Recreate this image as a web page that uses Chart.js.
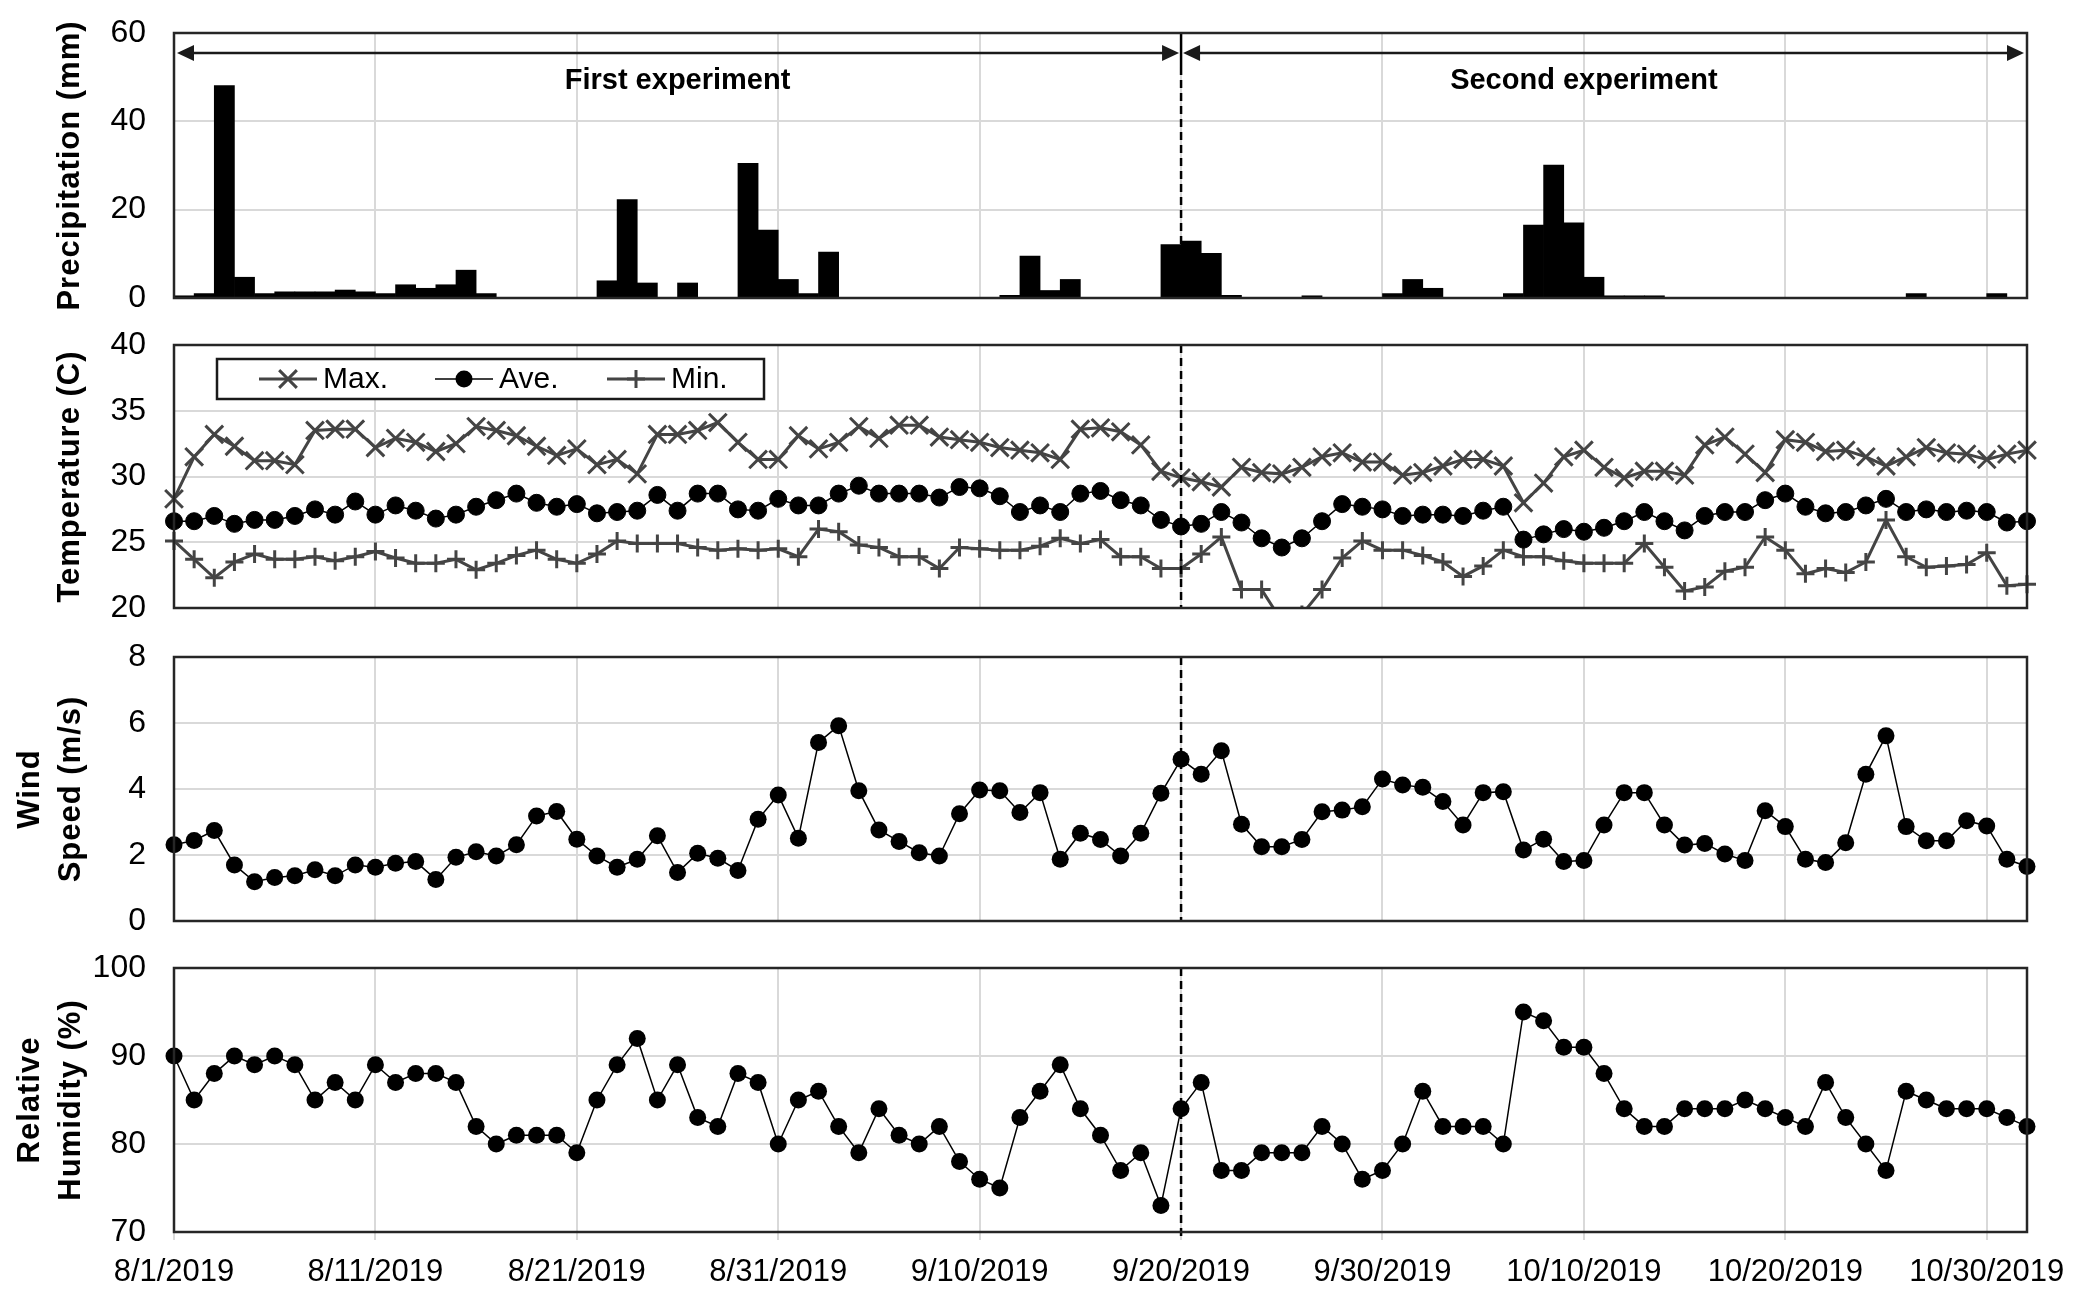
<!DOCTYPE html>
<html><head><meta charset="utf-8">
<script src="https://cdn.jsdelivr.net/npm/chart.js@4"></script>
<style>
html,body{margin:0;padding:0;background:#fff;}
#wrap{position:relative;width:2080px;height:1306px;background:#fff;}
canvas{position:absolute;left:0;}
</style></head><body>
<div id="wrap">
<canvas id="c1" width="2080" height="320" style="top:0px"></canvas>
<canvas id="c2" width="2080" height="310" style="top:320px"></canvas>
<canvas id="c3" width="2080" height="310" style="top:630px"></canvas>
<canvas id="c4" width="2080" height="366" style="top:940px"></canvas>
</div>
<script>
// ---------------- DATA ----------------
const tickDays = [0, 10, 20, 30, 40, 50, 60, 70, 80, 90];
const tickLabels = ['8/1/2019','8/11/2019','8/21/2019','8/31/2019','9/10/2019','9/20/2019','9/30/2019','10/10/2019','10/20/2019','10/30/2019'];
const splitDay = 50;
const experimentLabels = ['First experiment', 'Second experiment'];
const seriesNames = ['Max.', 'Ave.', 'Min.'];

// daily precipitation (mm), one bar per day from 8/1
const precipitation = [0.5,1.0,48.1,4.7,1.0,1.4,1.4,1.4,1.8,1.4,1.0,3.0,2.2,3.0,6.3,1.0,0,0,0,0,0,3.9,22.3,3.4,0,3.4,0,0,30.5,15.4,4.2,1.0,10.4,0,0,0,0,0,0,0,0,0.6,9.5,1.7,4.2,0,0,0,0,12.1,12.9,10.1,0.6,0,0,0,0.5,0,0,0,1.0,4.2,2.2,0,0,0,1.0,16.5,30.1,17.0,4.7,0.5,0.5,0.5,0,0,0,0,0,0,0,0,0,0,0,0,1.0,0,0,0,1.0,0];

const tempMax = [28.3,31.5,33.2,32.3,31.2,31.2,30.9,33.5,33.6,33.6,32.2,32.9,32.6,31.9,32.5,33.8,33.5,33.1,32.3,31.6,32.1,30.9,31.3,30.2,
  33.2,33.2,33.5,34.1,32.6,31.3,31.3,33.1,32.1,32.6,33.8,32.9,33.9,33.9,33.0,32.8,32.6,32.2,32.0,31.8,31.3,33.6,33.7,
  33.4,32.4,30.4,29.9,29.6,29.2,30.7,30.3,30.2,30.7,31.5,31.8,31.1,31.1,30.1,30.3,30.8,31.3,31.3,30.8,28.0,29.5,
  31.5,32.0,30.7,29.9,30.4,30.4,30.1,32.4,33.0,31.7,30.3,32.8,32.6,31.9,32.0,31.5,30.8,31.5,32.2,31.8,31.7,31.3,31.7,32.0];
const tempAve = [26.6,26.6,27.0,26.4,26.7,26.7,27.0,27.5,27.1,28.1,27.1,27.8,27.4,26.8,27.1,27.7,28.2,28.7,28.0,27.7,27.9,27.2,27.3,27.4,
  28.6,27.4,28.7,28.7,27.5,27.4,28.3,27.8,27.8,28.7,29.3,28.7,28.7,28.7,28.4,29.2,29.1,28.5,27.3,27.8,27.3,28.7,28.9,
  28.2,27.8,26.7,26.2,26.4,27.3,26.5,25.3,24.6,25.3,26.6,27.9,27.7,27.5,27.0,27.1,27.1,27.0,27.4,27.7,25.2,25.6,
  26.0,25.8,26.1,26.6,27.3,26.6,25.9,27.0,27.3,27.3,28.2,28.7,27.7,27.2,27.3,27.8,28.3,27.3,27.5,27.3,27.4,27.3,26.5,26.6];
const tempMin = [25.1,23.7,22.3,23.5,24.1,23.7,23.7,23.9,23.6,23.9,24.3,23.8,23.4,23.4,23.7,22.9,23.4,24.0,24.4,23.7,23.4,24.1,25.1,24.9,
  24.9,24.9,24.6,24.4,24.5,24.4,24.5,23.9,26.0,25.8,24.8,24.6,23.9,23.9,23.0,24.6,24.5,24.4,24.4,24.7,25.3,24.9,25.2,
  23.9,23.9,23.0,23.0,24.1,25.4,21.4,21.4,19.0,19.5,21.4,23.8,25.1,24.4,24.4,24.0,23.5,22.4,23.2,24.4,23.9,23.9,
  23.6,23.4,23.4,23.4,24.9,23.1,21.3,21.6,22.8,23.1,25.4,24.4,22.6,23.0,22.7,23.5,26.7,23.9,23.1,23.2,23.3,24.2,21.7,21.8];

const windSpeed = [2.31,2.44,2.74,1.70,1.19,1.32,1.37,1.55,1.37,1.70,1.63,1.75,1.80,1.26,1.93,2.10,1.97,2.31,3.18,3.32,2.48,1.97,1.63,1.87,2.58,1.47,2.05,1.90,1.53,3.08,3.82,2.51,5.41,5.92,3.95,2.76,2.41,2.07,1.97,3.25,3.97,3.95,3.29,3.89,
  1.87,2.66,2.47,1.97,2.66,3.87,4.90,4.45,5.16,2.93,2.25,2.25,2.47,3.31,3.36,3.46,4.30,4.12,4.05,3.62,2.91,3.89,3.92,2.15,2.48,1.80,1.83,2.91,3.89,3.89,2.91,2.30,2.35,2.03,1.83,3.34,2.86,1.87,1.77,2.37,4.45,5.61,2.86,2.43,2.43,3.04,2.88,1.87,1.65];

const humidity = [90,85,88,90,89,90,89,85,87,85,89,87,88,88,87,82,80,81,81,81,79,85,89,92,85,89,83,82,88,87,80,85,86,82,79,84,81,80,82,78,76,75,83,86,
  89,84,81,77,79,73,84,87,77,77,79,79,79,82,80,76,77,80,86,82,82,82,80,95,94,91,91,88,84,82,82,84,84,84,85,84,83,82,87,83,80,77,86,85,84,84,84,83,82];

// ---------------- STYLE / HELPERS ----------------
const FONT = "'Liberation Sans', Arial, sans-serif";
const AXIS_W = 174, RIGHT_PAD = 53;
const GRID = '#d9d9d9';
const GRAY = '#444444';
const lastDay = tempMax.length - 1;
const pts = arr => arr.map((v, i) => ({x: i, y: v}));

function xScale(showLabels, bottomH) {
  return {
    type: 'linear', min: 0, max: lastDay, offset: false,
    afterBuildTicks: s => { s.ticks = tickDays.map(v => ({value: v})); },
    afterFit: s => { s.height = bottomH; s.paddingLeft = 0; s.paddingRight = 0; },
    grid: {color: GRID, lineWidth: 2, drawTicks: showLabels, tickLength: 8, offset: false},
    border: {display: false},
    ticks: {display: showLabels, autoSkip: false, maxRotation: 0, minRotation: 0, padding: 14,
      color: '#000', font: {family: FONT, size: 31},
      callback: v => { const k = tickDays.indexOf(v); return k >= 0 ? tickLabels[k] : ''; }}
  };
}
function yScale(min, max, step) {
  return {
    type: 'linear', min, max,
    afterFit: s => { s.width = AXIS_W; s.paddingTop = 0; s.paddingBottom = 0; },
    grid: {color: GRID, lineWidth: 2, drawTicks: false},
    border: {display: false},
    ticks: {stepSize: step, padding: 28, color: '#000', font: {family: FONT, size: 32}}
  };
}

const framePlugin = {
  id: 'frame',
  afterDatasetsDraw(chart, args, o) {
    const {ctx, chartArea: a} = chart;
    const sx = chart.scales.x.getPixelForValue(splitDay);
    ctx.save();
    // split line
    ctx.strokeStyle = '#000'; ctx.lineWidth = 2.5;
    let dashTop = a.top;
    if (o.arrows) {
      const ay = a.top + o.arrowOffset;
      ctx.beginPath(); ctx.moveTo(sx, a.top); ctx.lineTo(sx, ay + 14); ctx.stroke();
      dashTop = ay + 14;
    }
    ctx.setLineDash([8, 5]);
    ctx.beginPath(); ctx.moveTo(sx, dashTop); ctx.lineTo(sx, a.bottom + (o.dashExtra || 0)); ctx.stroke();
    ctx.setLineDash([]);
    // frame
    ctx.strokeStyle = '#262626'; ctx.lineWidth = 2.5;
    ctx.strokeRect(a.left, a.top, a.right - a.left, a.bottom - a.top);
    // arrows & labels
    if (o.arrows) {
      const ay = a.top + o.arrowOffset;
      ctx.strokeStyle = '#1a1a1a'; ctx.fillStyle = '#1a1a1a'; ctx.lineWidth = 2.5;
      const head = (tx, dir) => {
        ctx.beginPath(); ctx.moveTo(tx, ay); ctx.lineTo(tx - dir * 17, ay - 8); ctx.lineTo(tx - dir * 17, ay + 8); ctx.closePath(); ctx.fill();
      };
      const seg = (x1, x2) => {
        ctx.beginPath(); ctx.moveTo(x1 + 6, ay); ctx.lineTo(x2 - 6, ay); ctx.stroke();
        head(x1, -1); head(x2, 1);
      };
      seg(a.left + 3, sx - 2);
      seg(sx + 2, a.right - 3);
      ctx.font = 'bold 29px ' + FONT; ctx.textAlign = 'center'; ctx.textBaseline = 'middle'; ctx.fillStyle = '#000';
      const xs = chart.scales.x;
      ctx.fillText(experimentLabels[0], xs.getPixelForValue(splitDay / 2), a.top + o.textOffset);
      ctx.fillText(experimentLabels[1], xs.getPixelForValue(70), a.top + o.textOffset);
    }
    // y title
    if (o.title) {
      ctx.font = 'bold 31px ' + FONT; ctx.fillStyle = '#000';
      ctx.textAlign = 'center'; ctx.textBaseline = 'middle';
      try { ctx.letterSpacing = '1px'; } catch (e) {}
      const cy = (a.top + a.bottom) / 2;
      o.title.forEach((t, k) => {
        const tx = o.title.length === 1 ? 70 : 30 + k * 41;
        ctx.save(); ctx.translate(tx, cy); ctx.rotate(-Math.PI / 2); ctx.fillText(t, 0, 0); ctx.restore();
      });
    }
    ctx.restore();
  },
  afterDraw(chart, args, o) {
    if (!o.legend) return;
    const {ctx, chartArea: a} = chart;
    ctx.save();
    const bx = 217, by = a.top + 14, bw = 547, bh = 40;
    ctx.fillStyle = '#fff'; ctx.fillRect(bx, by, bw, bh);
    ctx.strokeStyle = '#1a1a1a'; ctx.lineWidth = 2.5; ctx.strokeRect(bx, by, bw, bh);
    const cy = by + bh / 2;
    ctx.font = '30px ' + FONT; ctx.textBaseline = 'middle'; ctx.textAlign = 'left';
    o.legend.forEach(it => {
      ctx.strokeStyle = it.color; ctx.lineWidth = it.lw;
      ctx.beginPath(); ctx.moveTo(it.x - 29, cy); ctx.lineTo(it.x + 29, cy); ctx.stroke();
      ctx.fillStyle = it.color; ctx.strokeStyle = it.color;
      Chart.helpers.drawPoint(ctx, {pointStyle: it.style, radius: it.r, rotation: 0, borderWidth: it.bw}, it.x, cy);
      ctx.fillStyle = '#000';
      ctx.fillText(it.text, it.x + 35, cy + 1);
    });
    ctx.restore();
  }
};

const common = {responsive: false, animation: false, devicePixelRatio: 1, events: []};

// ---------------- PANEL 1: precipitation ----------------
new Chart(document.getElementById('c1'), {
  type: 'bar',
  data: {datasets: [{
    data: precipitation.map((v, i) => ({x: i + 0.5, y: v})),
    backgroundColor: '#000', borderWidth: 0, barPercentage: 1, categoryPercentage: 1
  }]},
  options: Object.assign({}, common, {
    layout: {padding: {top: 33, right: RIGHT_PAD, left: 0, bottom: 0}},
    plugins: {legend: {display: false}, tooltip: {enabled: false},
      frame: {title: ['Precipitation (mm)'], arrows: true, arrowOffset: 20, textOffset: 48}},
    scales: {x: xScale(false, 22), y: yScale(0, 60, 20)}
  }),
  plugins: [framePlugin]
});

// ---------------- PANEL 2: temperature ----------------
const tempStyles = [
  {data: tempMax, color: GRAY, lw: 3, style: 'crossRot', r: 12.5, bw: 3, x: 288},
  {data: tempAve, color: '#000', lw: 1.5, style: 'circle', r: 8.5, bw: 0, x: 464},
  {data: tempMin, color: GRAY, lw: 3, style: 'cross', r: 9, bw: 3, x: 636}
];
new Chart(document.getElementById('c2'), {
  type: 'line',
  data: {datasets: tempStyles.map((s, k) => ({
    label: seriesNames[k], data: pts(s.data), borderColor: s.color, borderWidth: s.lw,
    pointStyle: s.style, pointRadius: s.r, pointBorderWidth: s.bw || 1, pointBorderColor: s.color,
    pointBackgroundColor: s.style === 'circle' ? s.color : 'rgba(0,0,0,0)', tension: 0,
    clip: {left: 16, right: 16, top: 16, bottom: 0}
  }))},
  options: Object.assign({}, common, {
    layout: {padding: {top: 25, right: RIGHT_PAD, left: 0, bottom: 0}},
    plugins: {legend: {display: false}, tooltip: {enabled: false},
      frame: {title: ['Temperature (C)'],
        legend: tempStyles.map((s, k) => ({text: seriesNames[k], color: s.color, lw: s.lw, style: s.style, r: s.r, bw: s.bw, x: s.x}))}},
    scales: {x: xScale(false, 22), y: yScale(20, 40, 5)}
  }),
  plugins: [framePlugin]
});

// ---------------- PANEL 3: wind speed ----------------
function dotSeries(arr) {
  return {data: pts(arr), borderColor: '#000', borderWidth: 1.5, pointStyle: 'circle', pointRadius: 8.5,
    pointBorderWidth: 0, pointBackgroundColor: '#000', tension: 0, clip: false};
}
new Chart(document.getElementById('c3'), {
  type: 'line',
  data: {datasets: [dotSeries(windSpeed)]},
  options: Object.assign({}, common, {
    layout: {padding: {top: 27, right: RIGHT_PAD, left: 0, bottom: 0}},
    plugins: {legend: {display: false}, tooltip: {enabled: false},
      frame: {title: ['Wind', 'Speed (m/s)']}},
    scales: {x: xScale(false, 19), y: yScale(0, 8, 2)}
  }),
  plugins: [framePlugin]
});

// ---------------- PANEL 4: relative humidity ----------------
new Chart(document.getElementById('c4'), {
  type: 'line',
  data: {datasets: [dotSeries(humidity)]},
  options: Object.assign({}, common, {
    layout: {padding: {top: 28, right: RIGHT_PAD, left: 0, bottom: 0}},
    plugins: {legend: {display: false}, tooltip: {enabled: false},
      frame: {title: ['Relative', 'Humidity (%)'], dashExtra: 6}},
    scales: {x: xScale(true, 74), y: yScale(70, 100, 10)}
  }),
  plugins: [framePlugin]
});
</script>
</body></html>
